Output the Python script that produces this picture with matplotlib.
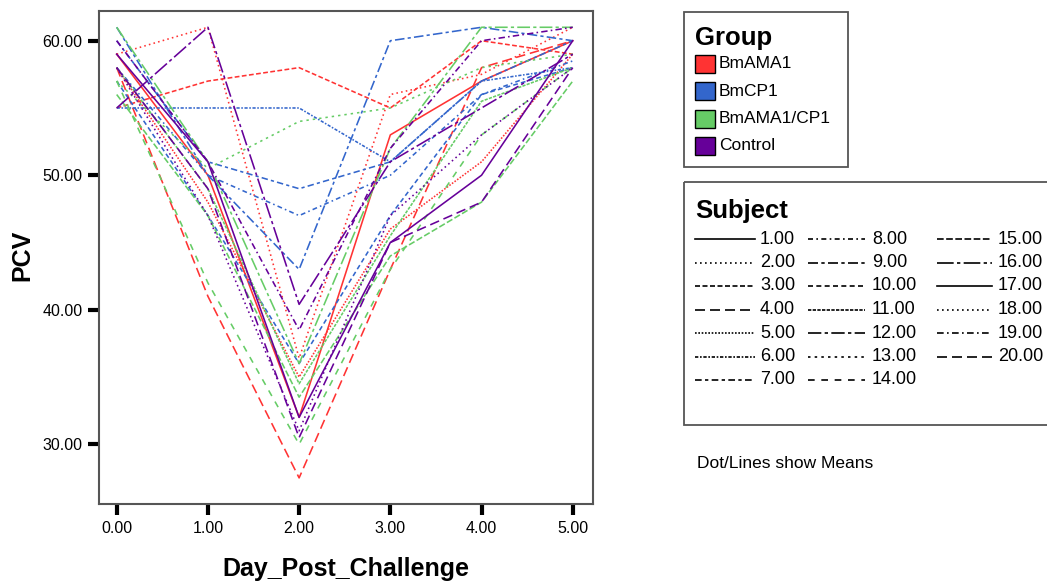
import matplotlib.pyplot as plt
from matplotlib.patches import Rectangle
from matplotlib.lines import Line2D

plt.rcParams["font.family"] = ["Liberation Sans", "DejaVu Sans"]
plt.rcParams["figure.dpi"] = 100

# Data
days = [0, 1, 2, 3, 4, 5]
groups = ["BmAMA1", "BmCP1", "BmAMA1/CP1", "Control"]
group_colors = ["#FF3333", "#3366CC", "#66CC66", "#660099"]

# PCV per subject, 5 subjects per group (subjects 1-20 in order)
pcv_bmama1 = [
    [59.0, 50.0, 32.0, 53.0, 57.0, 60.0],
    [59.0, 61.0, 36.4, 56.0, 57.5, 61.0],
    [55.0, 57.0, 58.0, 55.0, 60.0, 59.0],
    [58.0, 41.0, 27.5, 43.0, 58.0, 60.0],
    [58.0, 48.0, 35.0, 46.0, 51.0, 59.0],
]
pcv_bmcp1 = [
    [55.0, 55.0, 55.0, 51.0, 57.0, 58.0],
    [60.0, 51.0, 49.0, 51.0, 57.0, 60.0],
    [58.0, 50.0, 47.0, 50.0, 56.0, 58.5],
    [61.0, 50.0, 43.0, 60.0, 61.0, 60.0],
    [57.0, 47.0, 36.0, 47.0, 56.0, 58.0],
]
pcv_bmama1cp1 = [
    [58.0, 49.0, 34.5, 45.5, 55.5, 58.0],
    [61.0, 51.0, 36.0, 52.0, 61.0, 61.0],
    [57.0, 50.5, 54.0, 55.0, 58.0, 59.0],
    [57.0, 42.0, 30.0, 43.0, 53.0, 58.0],
    [56.0, 47.0, 33.5, 44.0, 48.0, 57.0],
]
pcv_control = [
    [55.0, 61.0, 40.4, 51.0, 55.0, 59.0],
    [59.0, 51.0, 32.0, 45.0, 50.0, 60.0],
    [58.0, 47.0, 31.0, 47.0, 53.0, 58.0],
    [60.0, 51.0, 38.5, 52.0, 60.0, 61.0],
    [58.0, 49.0, 30.5, 45.0, 48.0, 58.0],
]
pcv_by_group = [pcv_bmama1, pcv_bmcp1, pcv_bmama1cp1, pcv_control]
subject_labels = ["%.2f" % (i + 1) for i in range(20)]

# one dash pattern per subject
styles = [
    "-", (0, (1, 2)), (0, (3, 1.5)), (0, (6, 3)), (0, (1, 1)),
    (0, (2, 1, 1, 1)), (0, (4, 2, 2, 2)), (0, (3, 2, 1, 2)), (0, (6, 2, 2, 2)), (0, (3, 2)),
    (0, (2, 0.8)), (0, (8, 2, 2, 2)), (0, (1.5, 2.5)), (0, (4, 4)), (0, (4, 1.5)),
    (0, (10, 2, 2, 2)), "-", (0, (1, 2)), (0, (4, 2, 1, 2)), (0, (6, 3)),
]

fig = plt.figure(figsize=(10.47, 5.84))
ax = fig.add_axes([99 / 1047, 1 - 504 / 584, (593 - 99) / 1047, (504 - 11) / 584])

k = 0
for g, series in enumerate(pcv_by_group):
    for vals in series:
        ax.plot(days, vals, color=group_colors[g], linestyle=styles[k], linewidth=1.15)
        k += 1

ax.set_xlim(-0.194, 5.222)
ax.set_ylim(25.56, 62.21)
ax.set_xticks(days)
ax.set_xticklabels(["%.2f" % d for d in days], fontsize=11.5)
ax.set_yticks([30, 40, 50, 60])
ax.set_yticklabels(["30.00", "40.00", "50.00", "60.00"], fontsize=11.5)
ax.tick_params(direction="out", length=8, width=3, color="black", pad=4)
for s in ax.spines.values():
    s.set_color("#555555")
    s.set_linewidth(1.5)
ax.set_xlabel("Day_Post_Challenge", fontsize=18, fontweight="bold", va="center")
ax.set_ylabel("PCV", fontsize=18, fontweight="bold", va="center")
ax.xaxis.set_label_coords(0.5, -0.132)
ax.yaxis.set_label_coords(-0.156, 0.505)

# legend area in pixel coordinates
lg = fig.add_axes([0, 0, 1, 1], facecolor="none")
lg.set_xlim(0, 1047)
lg.set_ylim(584, 0)
lg.axis("off")

lg.add_patch(Rectangle((684, 11.5), 164, 155, fill=False, edgecolor="#555555", linewidth=1.3))
lg.text(695, 38, "Group", fontsize=18.5, fontweight="bold", va="center")
for i, name in enumerate(groups):
    y = 64 + i * 27.3
    lg.add_patch(Rectangle((695, y - 9), 20, 18, facecolor=group_colors[i], edgecolor="black", linewidth=1))
    lg.text(719, y, name, fontsize=12.5, va="center")

lg.add_patch(Rectangle((684, 182), 380, 243, fill=False, edgecolor="#555555", linewidth=1.3, clip_on=False))
lg.text(695, 211, "Subject", fontsize=18.5, fontweight="bold", va="center")
cols = [(695, 755, 760), (808, 865, 872), (937, 992, 998)]
for i, lab in enumerate(subject_labels):
    c = i // 7
    r = i % 7
    y = 239 + r * 23.5
    x0, x1, xt = cols[c]
    lg.add_line(Line2D([x0, x1], [y, y], color="black", linestyle=styles[i], linewidth=1.2))
    lg.text(xt, y, lab, fontsize=13, va="center")

lg.text(697, 463, "Dot/Lines show Means", fontsize=12.5, va="center")

plt.savefig("out.png")
